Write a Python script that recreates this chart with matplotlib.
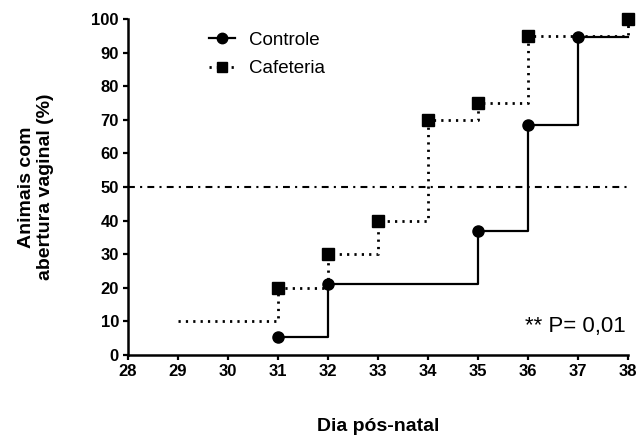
import matplotlib
matplotlib.use("Agg")
import matplotlib.pyplot as plt

plt.rcParams['font.family'] = ['Liberation Sans', 'DejaVu Sans']

# Cumulative percentage of animals with vaginal opening per postnatal day
controle_days = [31, 32, 35, 36, 37]
controle_pct = [5.26, 21.05, 36.84, 68.42, 94.74]
controle_end = 38

cafeteria_start_day = 29
cafeteria_start_pct = 10
cafeteria_days = [31, 32, 33, 34, 35, 36, 38]
cafeteria_pct = [20, 30, 40, 70, 75, 95, 100]

reference_level = 50
annotation = "** P= 0,01"

x_ticks = list(range(28, 39))
y_ticks = list(range(0, 101, 10))

DOTTED = (0, (0.8, 1.85))
DASHDOT = (0, (3.3, 2.5, 1.0, 2.5))

fig = plt.figure(figsize=(6.43, 4.36), dpi=100)
ax = fig.add_axes([0.199, 0.186, 0.778, 0.770])

# 50% reference line
ax.axhline(reference_level, color='black', lw=1.5, linestyle=DASHDOT, zorder=1)

# Cafeteria: dotted step curve
fx = [cafeteria_start_day] + cafeteria_days
fy = [cafeteria_start_pct] + cafeteria_pct
ax.step(fx, fy, where='post', color='black', lw=2.0, linestyle=DOTTED,
        clip_on=False, zorder=2)
ax.plot(cafeteria_days, cafeteria_pct, 's', color='black', ms=8,
        linestyle='None', clip_on=False, zorder=4)

# Controle: solid step curve
cx = controle_days + [controle_end]
cy = controle_pct + [controle_pct[-1]]
ax.step(cx, cy, where='post', color='black', lw=1.6, clip_on=False, zorder=3)
ax.plot(controle_days, controle_pct, 'o', color='black', ms=8,
        linestyle='None', clip_on=False, zorder=4)

# Legend handles
h1, = ax.plot([], [], marker='o', color='black', ms=7.5, lw=1.6, linestyle='-')
h2, = ax.plot([], [], marker='s', color='black', ms=7.5, lw=2.0, linestyle=DOTTED)
ax.legend([h1, h2], ['Controle', 'Cafeteria'], loc='upper left',
          bbox_to_anchor=(0.147, 0.985), frameon=False, fontsize=13.5,
          handlelength=1.4, handletextpad=0.75, labelspacing=0.6,
          borderaxespad=0.0)

ax.text(37.95, 8.5, annotation, ha='right', va='center', fontsize=16)

ax.set_xlim(28, 38)
ax.set_ylim(0, 100)
ax.set_xticks(x_ticks)
ax.set_yticks(y_ticks)
for s in ['top', 'right']:
    ax.spines[s].set_visible(False)
for s in ['left', 'bottom']:
    ax.spines[s].set_linewidth(1.8)
ax.tick_params(direction='out', length=3.5, width=1.6, labelsize=12, pad=3)
for lab in ax.get_xticklabels() + ax.get_yticklabels():
    lab.set_fontweight('bold')

ax.set_xlabel('Dia pós-natal', fontsize=14, fontweight='bold', labelpad=28)
ax.set_ylabel('Animais com\nabertura vaginal (%)', fontsize=14, fontweight='bold',
              labelpad=27, linespacing=1.15)

fig.savefig('out.png', dpi=100)
